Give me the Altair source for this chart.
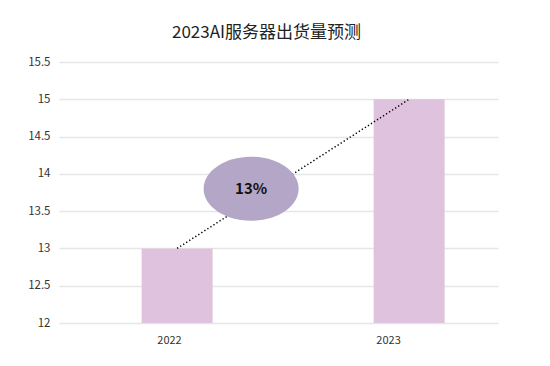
import altair as alt
import pandas as pd

years = ["2022", "2023"]
year_pos = [1, 2]
label_pos = [0.965, 1.909]
shipments = [13, 15]
growth_label = "13%"
growth_pos = [1.319]
growth_y = [13.8]
y_ticks = [12, 12.5, 13, 13.5, 14, 14.5, 15, 15.5]

df = pd.DataFrame({"year": years, "pos": year_pos, "value": shipments})
df_g = pd.DataFrame({"pos": growth_pos, "y": growth_y, "label": [growth_label]})

FONT = "Noto Sans CJK SC"
xscale = alt.Scale(domain=[0.491, 2.383], nice=False, zero=False, padding=0)
yscale = alt.Scale(domain=[12, 15.5], nice=False, zero=False, padding=0)

x_axis = alt.Axis(values=label_pos,
                  labelExpr="datum.value < 1.5 ? '2022' : '2023'",
                  grid=False, domain=False, ticks=False, title=None,
                  labelFont=FONT, labelFontSize=11, labelColor="#333333", labelPadding=11)
y_axis = alt.Axis(values=y_ticks, format=".1~f", grid=True, gridColor="#e6e6e6",
                  gridWidth=1.3, domain=False, ticks=False, title=None,
                  labelFont=FONT, labelFontSize=11.5, labelColor="#333333", labelPadding=9,
                  labelOverlap=False)

X = alt.X("pos:Q", scale=xscale, axis=x_axis)

bars = alt.Chart(df).mark_bar(width=71, color="#dfc3de").encode(
    x=X,
    y=alt.Y("value:Q", scale=yscale, axis=y_axis),
    y2=alt.datum(12),
)

line = alt.Chart(df).mark_line(color="#000000", strokeDash=[1.3, 2.3], strokeWidth=1.5).encode(
    x=X,
    y=alt.Y("value:Q", scale=yscale, axis=y_axis),
)

ellipse_path = "M -1 0 A 1 0.674 0 1 1 1 0 A 1 0.674 0 1 1 -1 0 Z"
ell = alt.Chart(df_g).mark_point(shape=ellipse_path, size=9025, filled=True,
                                 color="#b3a6c6", opacity=1).encode(
    x=X,
    y=alt.Y("y:Q", scale=yscale, axis=y_axis),
)

txt = alt.Chart(df_g).mark_text(font=FONT, fontSize=15, fontWeight="bold",
                                color="#111111", baseline="middle", align="center").encode(
    x=X,
    y=alt.Y("y:Q", scale=yscale, axis=y_axis),
    text="label:N",
)

chart = alt.layer(bars, line, ell, txt).properties(
    width=439, height=261,
    title=alt.TitleParams("2023AI服务器出货量预测", font=FONT, fontSize=17,
                          fontWeight="normal", color="#222222", anchor="middle",
                          dx=-12, offset=14),
    autosize=alt.AutoSizeParams(type="none"),
    padding={"left": 51, "top": 54, "right": 44, "bottom": 35},
).configure_view(stroke=None)

chart.save("out.html", embed_options={"renderer": "svg", "actions": False})
